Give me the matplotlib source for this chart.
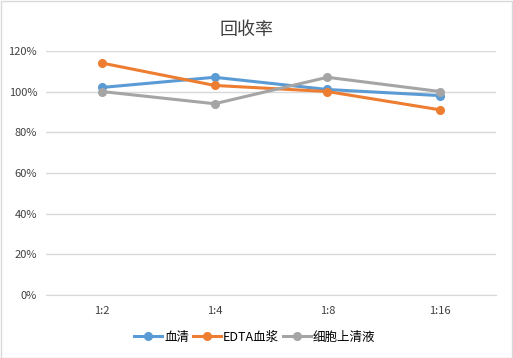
import matplotlib
matplotlib.use("Agg")
import matplotlib.pyplot as plt
from matplotlib.ticker import FuncFormatter

plt.rcParams['font.family'] = ['Noto Sans CJK SC', 'DejaVu Sans']

# Data
categories = ["1:2", "1:4", "1:8", "1:16"]
serum = [102, 107, 101, 98]
edta_plasma = [114, 103, 100, 91]
cell_supernatant = [100, 94, 107, 100]
series_names = ["血清", "EDTA血浆", "细胞上清液"]
colors = ["#5B9BD5", "#ED7D31", "#A5A5A5"]

fig = plt.figure(figsize=(5.13, 3.58), dpi=100)
fig.patches.append(plt.Rectangle((0.001, 0.001), 0.997, 0.996, transform=fig.transFigure,
                                 fill=False, edgecolor="#D9D9D9", linewidth=1))
ax = fig.add_axes([0.0887, 0.176, 0.879, 0.682])

x = list(range(len(categories)))
for vals, name, c in zip([serum, edta_plasma, cell_supernatant], series_names, colors):
    ax.plot(x, vals, color=c, linewidth=2.2, marker="o", markersize=5.5, label=name, zorder=3)

ax.set_xlim(-0.5, len(categories) - 0.5)
ax.set_ylim(0, 120)
ax.set_yticks(range(0, 121, 20))
ax.yaxis.set_major_formatter(FuncFormatter(lambda v, p: f"{int(v)}%"))
ax.set_xticks(x)
ax.set_xticklabels(categories)
ax.grid(axis="y", color="#D9D9D9", linewidth=1)
ax.set_axisbelow(True)
for s in ["top", "right", "left"]:
    ax.spines[s].set_visible(False)
ax.spines["bottom"].set_color("#D9D9D9")
ax.tick_params(axis="both", length=0, labelsize=8, colors="#404040", pad=6)
ax.tick_params(axis="x", pad=8)

fig.text(0.48, 0.915, "回收率", ha="center", va="center", fontsize=13, color="#404040")

fig.legend(*ax.get_legend_handles_labels(), loc="center", bbox_to_anchor=(0.497, 0.058),
           ncol=3, frameon=False, fontsize=9, handlelength=2.2, columnspacing=0.3,
           handletextpad=0.2)

plt.savefig("out.png", dpi=100)
